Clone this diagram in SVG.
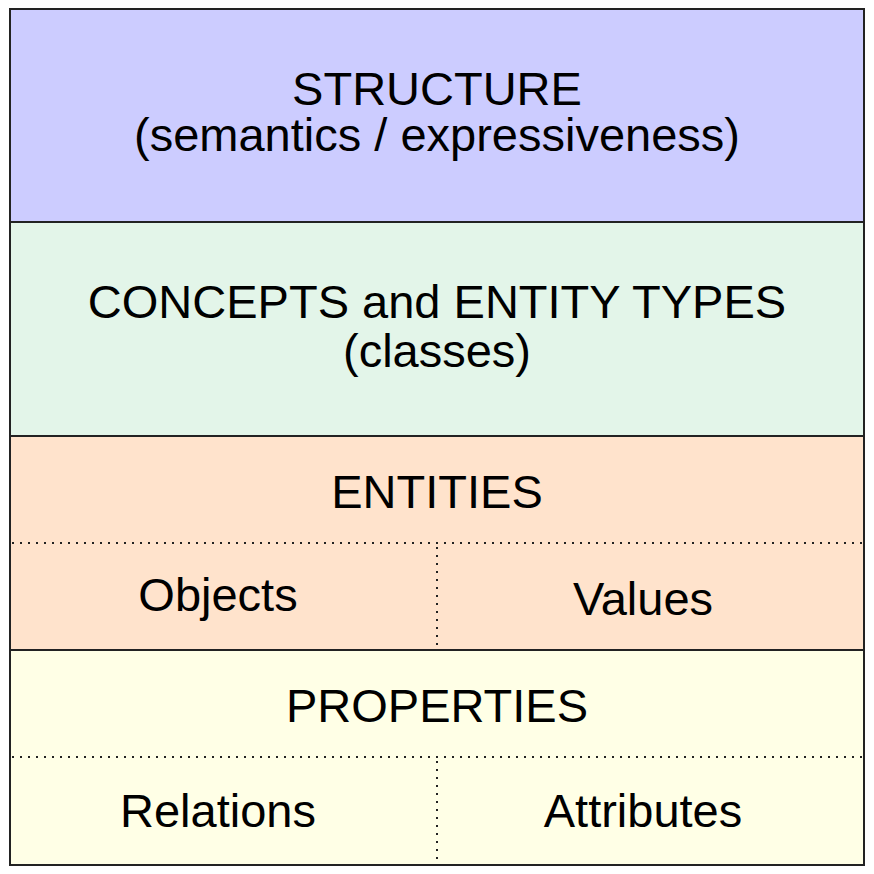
<svg xmlns="http://www.w3.org/2000/svg" width="874" height="874" viewBox="0 0 874 874">
<style>
.b{stroke:#222;stroke-width:2}
.d{stroke:#222;stroke-width:2;stroke-dasharray:2 6;fill:none}
text{font-family:"Liberation Sans",Arial,sans-serif;font-size:47px;text-anchor:middle;fill:#000}
</style>
<rect width="874" height="874" fill="#fff"/>
<g id="structure"><rect class="b" x="10" y="9" width="854" height="213" fill="#ccccff"/>
<text x="437" y="105">STRUCTURE</text><text x="437" y="151">(semantics / expressiveness)</text></g>
<g id="concepts"><rect class="b" x="10" y="222" width="854" height="214" fill="#e3f5e9"/>
<text x="437" y="318">CONCEPTS and ENTITY TYPES</text><text x="437" y="367">(classes)</text></g>
<g id="entities"><rect class="b" x="10" y="436" width="854" height="214" fill="#ffe3cc"/>
<text x="437" y="508">ENTITIES</text>
<text x="218" y="611">Objects</text><text x="643" y="615">Values</text></g>
<g id="properties"><rect class="b" x="10" y="650" width="854" height="215" fill="#ffffe6"/>
<text x="437" y="722">PROPERTIES</text>
<text x="218" y="827">Relations</text><text x="643" y="827">Attributes</text></g>
<g id="connectors">
<line class="d" x1="12" y1="543" x2="862" y2="543"/>
<line class="d" x1="437" y1="547" x2="437" y2="648"/>
<line class="d" x1="12" y1="757" x2="862" y2="757"/>
<line class="d" x1="437" y1="761" x2="437" y2="863"/>
</g>
</svg>
